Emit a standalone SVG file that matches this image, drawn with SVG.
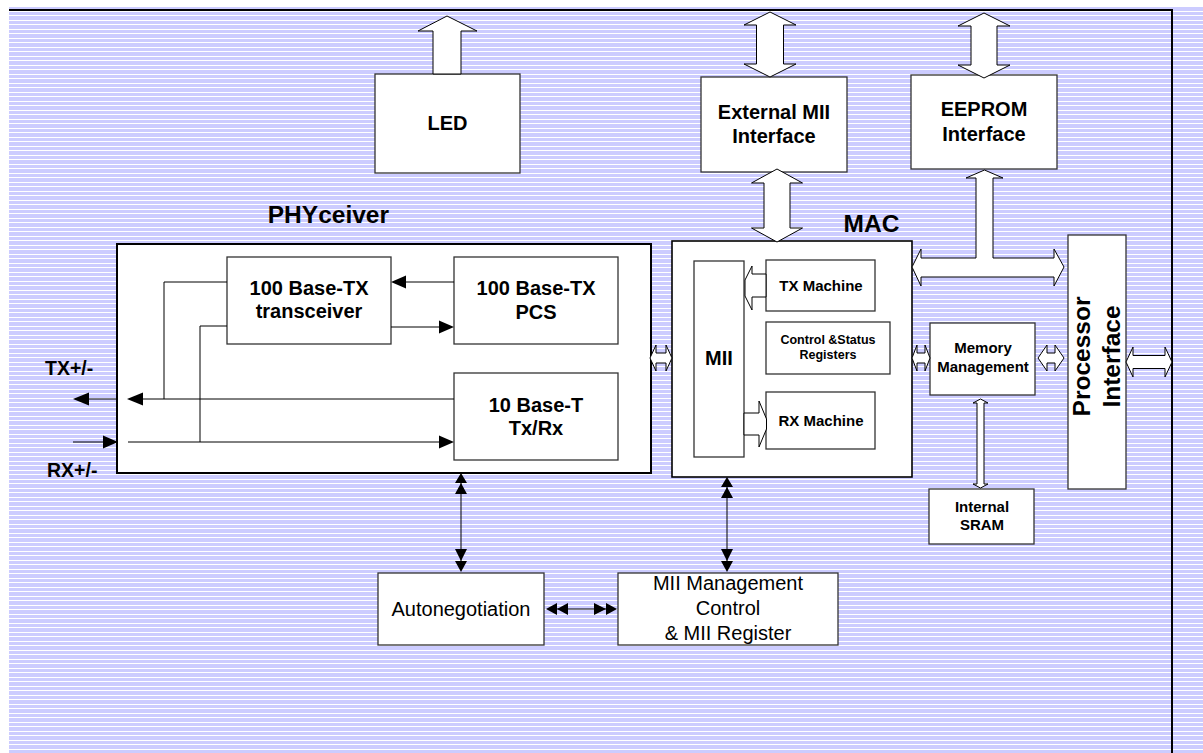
<svg xmlns="http://www.w3.org/2000/svg" width="1203" height="753" viewBox="0 0 1203 753">
<defs>
<pattern id="bg" width="12" height="9" patternUnits="userSpaceOnUse">
<rect width="12" height="9" fill="#ccccff"/>
<rect y="2" width="12" height="1" fill="#ffffff"/>
<rect y="6" width="12" height="1" fill="#ffffff"/>
</pattern>
</defs>
<style>
.box{fill:#fff;stroke:#333;stroke-width:1.3}
.big{fill:#fff;stroke:#000;stroke-width:2}
.hol{fill:#fff;stroke:#000;stroke-width:1}
.ln{fill:none;stroke:#000;stroke-width:1}
.hd{fill:#000;stroke:none}
.b20{font-family:"Liberation Sans",Arial,sans-serif;font-weight:bold;font-size:20px;text-anchor:middle;fill:#000}
.b15{font-family:"Liberation Sans",Arial,sans-serif;font-weight:bold;font-size:15px;text-anchor:middle;fill:#000}
.b12{font-family:"Liberation Sans",Arial,sans-serif;font-weight:bold;font-size:12.5px;text-anchor:middle;fill:#000}
.h24{font-family:"Liberation Sans",Arial,sans-serif;font-weight:bold;font-size:24.5px;fill:#000}
.r20{font-family:"Liberation Sans",Arial,sans-serif;font-size:20px;text-anchor:middle;fill:#000}
</style>
<rect width="1203" height="753" fill="#fff"/>
<rect x="9" y="7" width="1194" height="746" fill="url(#bg)"/>
<line x1="9" y1="10" x2="1173" y2="10" stroke="#000" stroke-width="2"/>
<line x1="1172" y1="9" x2="1172" y2="753" stroke="#000" stroke-width="2"/>

<g id="phyceiver">
<rect class="big" x="117" y="244" width="534" height="229"/>
<text class="h24" x="389" y="223" text-anchor="end">PHYceiver</text>
</g>
<g id="tx100">
<rect class="box" x="227" y="257" width="164" height="87"/>
<text class="b20" x="309" y="295">100 Base-TX</text>
<text class="b20" x="309" y="318">transceiver</text>
</g>
<g id="pcs100">
<rect class="box" x="454" y="257" width="164" height="87"/>
<text class="b20" x="536" y="295">100 Base-TX</text>
<text class="b20" x="536" y="319">PCS</text>
</g>
<g id="t10">
<rect class="box" x="454" y="373" width="164" height="87"/>
<text class="b20" x="536" y="412">10 Base-T</text>
<text class="b20" x="536" y="435">Tx/Rx</text>
</g>
<g id="led">
<rect class="box" x="375" y="74" width="145" height="99"/>
<text class="b20" x="447.5" y="130">LED</text>
</g>
<g id="extmii">
<rect class="box" x="701" y="77" width="146" height="95"/>
<text class="b20" x="774" y="119">External MII</text>
<text class="b20" x="774" y="143">Interface</text>
</g>
<g id="eeprom">
<rect class="box" x="911" y="75" width="146" height="94"/>
<text class="b20" x="984" y="116">EEPROM</text>
<text class="b20" x="984" y="141">Interface</text>
</g>
<g id="mac">
<rect class="box" x="672" y="241" width="240" height="236" style="stroke:#000;stroke-width:1.6"/>
<text class="h24" x="871.5" y="232" text-anchor="middle">MAC</text>
</g>
<g id="mii">
<rect class="box" x="694" y="261" width="50" height="196"/>
<text class="b20" x="719" y="365">MII</text>
</g>
<g id="txm">
<rect class="box" x="766" y="260" width="109" height="51"/>
<text class="b15" x="821" y="291">TX Machine</text>
</g>
<g id="csr">
<rect class="box" x="766" y="322" width="124" height="52"/>
<text class="b12" x="828" y="344">Control &amp;Status</text>
<text class="b12" x="828" y="359">Registers</text>
</g>
<g id="rxm">
<rect class="box" x="766" y="392" width="109" height="57"/>
<text class="b15" x="821" y="426">RX Machine</text>
</g>
<g id="memmgmt">
<rect class="box" x="930" y="323" width="105" height="72"/>
<text class="b15" x="983" y="353">Memory</text>
<text class="b15" x="983" y="372">Management</text>
</g>
<g id="sram">
<rect class="box" x="929" y="489" width="105" height="55"/>
<text class="b15" x="982" y="512">Internal</text>
<text class="b15" x="982" y="530">SRAM</text>
</g>
<g id="proc">
<rect class="box" x="1068" y="235" width="58" height="254"/>
<text class="h24" text-anchor="middle" transform="translate(1090,356.5) rotate(-90)">Processor</text>
<text class="h24" text-anchor="middle" transform="translate(1120,356.5) rotate(-90)">Interface</text>
</g>
<g id="autoneg">
<rect class="box" x="378" y="573" width="166" height="72"/>
<text class="r20" x="461" y="616">Autonegotiation</text>
</g>
<g id="miimgmt">
<rect class="box" x="618" y="573" width="220" height="72"/>
<text class="r20" x="728" y="590">MII Management</text>
<text class="r20" x="728" y="615">Control</text>
<text class="r20" x="728" y="640">&amp; MII Register</text>
</g>
<g id="labels">
<text class="b20" x="45" y="375" style="text-anchor:start;font-size:19.5px">TX+/-</text>
<text class="b20" x="47" y="477" style="text-anchor:start;font-size:19.5px">RX+/-</text>
</g>

<g id="connectors">
<polygon class="hol" points="447,16 477,31 461,31 461,74 433,74 433,31 418,31"/>
<polygon class="hol" points="770,12 796,25 783.5,25 783.5,64 796,64 770,77 744,64 756.5,64 756.5,25 744,25"/>
<polygon class="hol" points="777,169 802.5,183 790,183 790,228 802.5,228 777,242 751.5,228 764,228 764,183 751.5,183"/>
<polygon class="hol" points="984,13 1010,26 997,26 997,65 1010,65 984,78 958,65 971,65 971,26 958,26"/>
<polygon class="hol" points="984.5,170 1003,178 993,178 993,258 1054,258 1054,249 1064,267 1054,286 1054,277 921,277 921,286 912,267 921,249 921,258 976,258 976,178 966,178"/>
<polygon class="hol" points="650,358 656,345 656,353 666,353 666,345 672,358 666,371 666,363 656,363 656,371"/>
<polygon class="hol" points="912,358 917,345 917,353 925,353 925,345 930,358 925,371 925,363 917,363 917,371"/>
<polygon class="hol" points="1038,358 1047,345 1047,353 1055,353 1055,345 1064,358 1055,371 1055,363 1047,363 1047,371"/>
<polygon class="hol" points="1126,362 1133,347 1133,355.5 1165,355.5 1165,347 1172,362 1165,377 1165,368.5 1133,368.5 1133,377"/>
<polygon class="hol" points="980.5,399 988,403 984,403 984,484 988,484 980.5,488 973,484 977,484 977,403 973,403"/>
<polygon class="hol" points="766,274 752,274 752,266 745,280 745,296 752,310 752,297 766,297"/>
<polygon class="hol" points="744,413 759,413 759,401 766.5,419 766.5,429 759,447 759,435 744,435"/>

<line class="ln" x1="117" y1="399" x2="85" y2="399"/>
<polygon class="hd" points="73,399 89,392.5 89,405.5"/>
<line class="ln" x1="454" y1="399" x2="140" y2="399"/>
<polygon class="hd" points="127,399 143,392.5 143,405.5"/>
<line class="ln" x1="73" y1="442" x2="105" y2="442"/>
<polygon class="hd" points="118,442 103,435.5 103,448.5"/>
<line class="ln" x1="128" y1="442" x2="442" y2="442"/>
<polygon class="hd" points="454,442 439,435.5 439,448.5"/>
<polyline class="ln" points="227,282 164,282 164,399"/>
<polyline class="ln" points="227,326 200,326 200,442"/>
<line class="ln" x1="454" y1="282" x2="403" y2="282"/>
<polygon class="hd" points="391,282 406,275.5 406,288.5"/>
<line class="ln" x1="391" y1="327" x2="442" y2="327"/>
<polygon class="hd" points="454,327 439,320.5 439,333.5"/>

<line class="ln" x1="461" y1="480" x2="461" y2="566"/>
<polygon class="hd" points="461,473 467,483 455,483"/>
<polygon class="hd" points="461,483 467,494 455,494"/>
<polygon class="hd" points="461,561 467,549 455,549"/>
<polygon class="hd" points="461,572 467,561 455,561"/>

<line class="ln" x1="727" y1="484" x2="727" y2="566"/>
<polygon class="hd" points="727,477 733,487 721,487"/>
<polygon class="hd" points="727,487 733,498 721,498"/>
<polygon class="hd" points="727,561 733,549 721,549"/>
<polygon class="hd" points="727,572 733,561 721,561"/>

<line class="ln" x1="550" y1="609" x2="612" y2="609"/>
<polygon class="hd" points="546,609 557,603 557,615"/>
<polygon class="hd" points="557,609 568,603 568,615"/>
<polygon class="hd" points="606,609 594,603 594,615"/>
<polygon class="hd" points="617,609 606,603 606,615"/>
</g>
</svg>
